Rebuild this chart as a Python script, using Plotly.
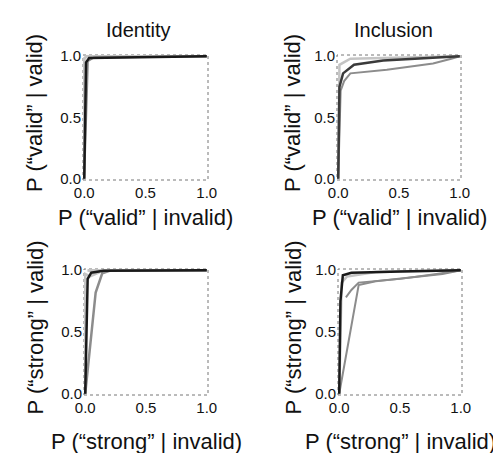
import plotly.graph_objects as go

W, H = 501, 453

panel_titles = ["Identity", "Inclusion"]
x_titles = ["P (\u201cvalid\u201d | invalid)", "P (\u201cvalid\u201d | invalid)",
            "P (\u201cstrong\u201d | invalid)", "P (\u201cstrong\u201d | invalid)"]
y_titles = ["P (\u201cvalid\u201d | valid)", "P (\u201cvalid\u201d | valid)",
            "P (\u201cstrong\u201d | valid)", "P (\u201cstrong\u201d | valid)"]
tick_vals = [0.0, 0.5, 1.0]
tick_text = ["0.0", "0.5", "1.0"]

# Panel A: Identity, "valid"
a_black_x = [0.0, 0.015, 0.04, 0.3, 1.0]
a_black_y = [0.0, 0.95, 0.985, 0.99, 1.0]
a_grey_x = [0.0, 0.03, 0.08, 1.0]
a_grey_y = [0.0, 0.96, 0.99, 1.0]
a_light_x = [0.0, 0.0, 0.02, 1.0]
a_light_y = [0.0, 0.98, 1.0, 1.0]

# Panel B: Inclusion, "valid"
b_black_x = [0.0, 0.01, 0.04, 0.13, 0.37, 0.7, 1.0]
b_black_y = [0.0, 0.75, 0.86, 0.93, 0.965, 0.985, 1.0]
b_grey_x = [0.0, 0.02, 0.05, 0.1, 0.4, 0.78, 0.93, 1.0]
b_grey_y = [0.0, 0.72, 0.8, 0.86, 0.89, 0.94, 0.98, 1.0]
b_light_x = [0.0, 0.01, 0.1, 0.5, 1.0]
b_light_y = [0.0, 0.93, 0.98, 0.99, 1.0]

# Panel C: Identity, "strong"
c_black_x = [0.0, 0.02, 0.05, 0.15, 1.0]
c_black_y = [0.0, 0.93, 0.98, 0.995, 1.0]
c_grey_x = [0.0, 0.086, 0.14, 0.2, 1.0]
c_grey_y = [0.0, 0.82, 0.975, 0.995, 1.0]
c_light_x = [0.0, 0.0, 0.04, 0.12, 0.05, 0.02, 1.0]
c_light_y = [0.0, 0.97, 0.95, 0.985, 0.99, 1.0, 1.0]

# Panel D: Inclusion, "strong"
d_black_x = [0.0, 0.01, 0.03, 0.1, 0.5, 1.0]
d_black_y = [0.0, 0.75, 0.96, 0.98, 0.99, 1.0]
d_grey_x = [0.0, 0.16, 0.3, 0.6, 0.85, 1.0]
d_grey_y = [0.0, 0.88, 0.91, 0.94, 0.97, 1.0]
d_mid_x = [0.055, 0.1, 0.16, 0.5, 0.8, 1.0]
d_mid_y = [0.78, 0.84, 0.9, 0.93, 0.97, 1.0]
d_light_x = [0.0, 0.02, 0.065, 0.3, 0.8, 1.0]
d_light_y = [0.0, 0.9, 0.95, 0.985, 0.995, 1.0]

C_BLACK, C_GREY, C_MID, C_LIGHT = "#1a1a1a", "#8c8c8c", "#3a3a3a", "#c4c4c4"

panels = [
    [(a_light_x, a_light_y, C_LIGHT, 3), (a_grey_x, a_grey_y, C_GREY, 2), (a_black_x, a_black_y, C_BLACK, 2.5)],
    [(b_light_x, b_light_y, C_LIGHT, 2.5), (b_grey_x, b_grey_y, C_GREY, 2), (b_black_x, b_black_y, C_MID, 2.5)],
    [(c_light_x, c_light_y, C_LIGHT, 2.5), (c_grey_x, c_grey_y, C_GREY, 2.5), (c_black_x, c_black_y, C_BLACK, 2.5)],
    [(d_light_x, d_light_y, C_LIGHT, 2.5), (d_grey_x, d_grey_y, C_GREY, 2), (d_mid_x, d_mid_y, C_GREY, 2),
     (d_black_x, d_black_y, C_BLACK, 2.5)],
]

# pixel boxes: (left, right, top, bottom)
boxes = [(75, 200, 47, 172), (329, 453, 47, 172), (76, 200, 261, 387), (330, 454, 261, 387)]

fig = go.Figure()
font = "Liberation Sans, Arial, sans-serif"
annotations = []
shapes = []
for i, (traces, box) in enumerate(zip(panels, boxes)):
    l, r, t, b = box
    sfx = "" if i == 0 else str(i + 1)
    for xs, ys, col, w in traces:
        fig.add_trace(go.Scatter(x=xs, y=ys, mode="lines", line=dict(color=col, width=w),
                                 xaxis="x" + sfx, yaxis="y" + sfx, showlegend=False, hoverinfo="skip"))
    fig.layout["xaxis" + sfx] = dict(domain=[l / W, r / W], range=[-0.01, 1.01], anchor="y" + sfx,
                                     tickvals=tick_vals, ticktext=tick_text, ticks="", showgrid=False,
                                     zeroline=False, showline=False, automargin=False, ticklabelstandoff=2,
                                     tickfont=dict(size=15, color="#111", family=font))
    fig.layout["yaxis" + sfx] = dict(domain=[1 - b / H, 1 - t / H], range=[-0.01, 1.01], anchor="x" + sfx,
                                     tickvals=tick_vals, ticktext=tick_text, ticks="", showgrid=False,
                                     zeroline=False, showline=False, automargin=False, ticklabelstandoff=1,
                                     tickfont=dict(size=15, color="#111", family=font))
    shapes.append(dict(type="rect", xref="x" + sfx + " domain", yref="y" + sfx + " domain",
                       x0=0, x1=1, y0=0, y1=1, line=dict(color="#777", width=1, dash="dot"), layer="below"))
    # x title
    xt_y = 210 if i < 2 else 433
    annotations.append(dict(text=x_titles[i], x=(l + r) / 2 / W, y=1 - xt_y / H, xref="paper", yref="paper",
                            showarrow=False, xanchor="center", yanchor="middle",
                            font=dict(size=22, color="#111", family=font)))
    # y title
    yt_x = 27 if i % 2 == 0 else 285
    annotations.append(dict(text=y_titles[i], x=yt_x / W, y=1 - (t + b) / 2 / H + 0.01, xref="paper", yref="paper",
                            showarrow=False, xanchor="center", yanchor="middle", textangle=-90,
                            font=dict(size=22, color="#111", family=font)))

for j, title in enumerate(panel_titles):
    cx = 130 if j == 0 else 385
    annotations.append(dict(text=title, x=cx / W, y=1 - 22 / H, xref="paper", yref="paper",
                            showarrow=False, xanchor="center", yanchor="middle",
                            font=dict(size=20, color="#111", family=font)))

fig.update_layout(width=W, height=H, margin=dict(l=0, r=0, t=0, b=0),
                  paper_bgcolor="white", plot_bgcolor="white",
                  annotations=annotations, shapes=shapes)

fig.write_html("out.html")
